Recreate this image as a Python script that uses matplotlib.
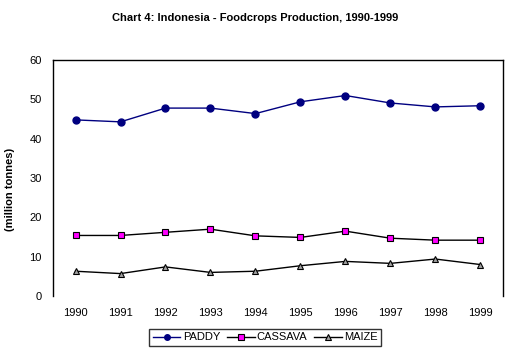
import matplotlib
matplotlib.use("Agg")
import matplotlib.pyplot as plt

years = ["1990", "1991", "1992", "1993", "1994", "1995", "1996", "1997", "1998", "1999"]
paddy = [44.8, 44.3, 47.8, 47.8, 46.4, 49.4, 51.0, 49.1, 48.1, 48.4]
cassava = [15.4, 15.4, 16.2, 17.0, 15.3, 14.9, 16.5, 14.7, 14.2, 14.2]
maize = [6.3, 5.7, 7.4, 6.0, 6.3, 7.7, 8.8, 8.3, 9.4, 8.0]

plt.rcParams["font.family"] = ["Liberation Sans", "DejaVu Sans"]

fig = plt.figure(figsize=(5.1, 3.59), dpi=100)
ax = fig.add_axes([0.104, 0.1755, 0.882, 0.657])

x = range(len(years))
ax.plot(x, paddy, color="#000080", lw=1, marker="o", ms=5,
        mfc="#000080", mec="#000080", label="PADDY")
ax.plot(x, cassava, color="black", lw=1, marker="s", ms=5,
        mfc="#FF00FF", mec="black", mew=0.8, label="CASSAVA")
ax.plot(x, maize, color="black", lw=1, marker="^", ms=5,
        mfc="#A0A0A0", mec="black", mew=0.8, label="MAIZE")

ax.set_xlim(-0.5, 9.5)
ax.set_ylim(0, 60)
ax.set_yticks(range(0, 61, 10))
ax.set_xticks(list(x))
ax.set_xticklabels(years)
ax.tick_params(length=0, labelsize=8)
ax.tick_params(axis="y", pad=8)
ax.tick_params(axis="x", pad=9)
ax.spines["bottom"].set_visible(False)
for s in ["left", "top", "right"]:
    ax.spines[s].set_linewidth(1)
    ax.spines[s].set_color("black")

ax.set_ylabel("(million tonnes)", fontsize=8, fontweight="bold")
ax.yaxis.set_label_coords(-0.084, 0.45)
fig.text(0.5, 0.95, "Chart 4: Indonesia - Foodcrops Production, 1990-1999",
         ha="center", va="center", fontsize=8, fontweight="bold")

leg = fig.legend(loc="center", bbox_to_anchor=(0.52, 0.06), ncol=3, fontsize=8,
                 frameon=True, fancybox=False, edgecolor="black",
                 handlelength=2.5, columnspacing=0.6, handletextpad=0.2,
                 borderpad=0.3, markerscale=0.8)
leg.get_frame().set_linewidth(1)

fig.savefig("out.png", dpi=100)
